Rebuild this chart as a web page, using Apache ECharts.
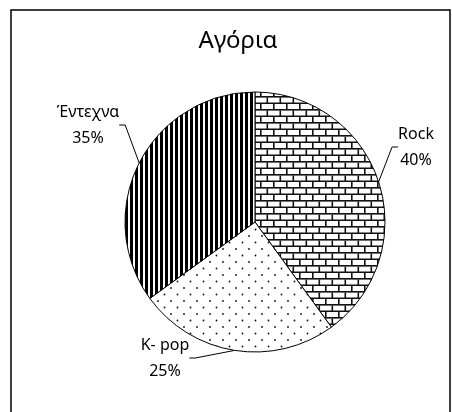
<!DOCTYPE html>
<html>
<head>
<meta charset="utf-8">
<script src="https://cdn.jsdelivr.net/npm/echarts@6/dist/echarts.min.js"></script>
<style>
html,body{margin:0;padding:0;background:#fff;}
#chart{width:452px;height:412px;}
</style>
</head>
<body>
<div id="chart"></div>
<script>
const titleText = 'Αγόρια';
const categories = ['Rock', 'K- pop', 'Έντεχνα'];
const values = [40, 25, 35];

function makePattern(kind) {
  const c = document.createElement('canvas');
  const ctx = c.getContext('2d');
  if (kind === 'brick') {
    c.width = 13; c.height = 13;
    ctx.fillStyle = '#fff'; ctx.fillRect(0, 0, 13, 13);
    ctx.fillStyle = '#111';
    ctx.fillRect(0, 5, 13, 1.6);
    ctx.fillRect(0, 11.5, 13, 1.6);
    ctx.fillRect(0, 0, 1.6, 6);
    ctx.fillRect(6.5, 6.5, 1.6, 6);
  } else if (kind === 'stripes') {
    c.width = 5; c.height = 5;
    ctx.fillStyle = '#fff'; ctx.fillRect(0, 0, 5, 5);
    ctx.fillStyle = '#000'; ctx.fillRect(0, 0, 3, 5);
  } else {
    c.width = 13; c.height = 13;
    ctx.fillStyle = '#fff'; ctx.fillRect(0, 0, 13, 13);
    ctx.fillStyle = '#111';
    ctx.beginPath(); ctx.arc(2, 2, 0.9, 0, Math.PI * 2); ctx.fill();
    ctx.beginPath(); ctx.arc(8.5, 8.5, 0.9, 0, Math.PI * 2); ctx.fill();
  }
  return { image: c, repeat: 'repeat' };
}
const patterns = [makePattern('brick'), makePattern('dots'), makePattern('stripes')];
const labelPos = [[416, 147], [165, 358], [88, 125]];

const chart = echarts.init(document.getElementById('chart'), null, { renderer: 'canvas' });
chart.setOption({
  animation: false,
  backgroundColor: '#fff',
  title: {
    text: titleText,
    left: 233,
    top: 24,
    textAlign: 'center',
    textStyle: { fontFamily: 'Noto Sans', fontSize: 24, fontWeight: 'normal', color: '#000' }
  },
  graphic: [{
    type: 'rect',
    shape: { x: 11, y: 10, width: 439, height: 420 },
    style: { fill: 'none', stroke: '#000', lineWidth: 1.5 },
    silent: true
  }],
  series: [{
    type: 'pie',
    center: [255, 222],
    radius: 130,
    startAngle: 90,
    clockwise: true,
    percentPrecision: 0,
    data: categories.map((n, i) => ({
      name: n,
      value: values[i],
      itemStyle: { color: patterns[i] }
    })),
    itemStyle: { borderColor: '#000', borderWidth: 1 },
    label: {
      show: true,
      position: 'outside',
      formatter: '{b}\n{d}%',
      fontFamily: 'Noto Sans',
      fontSize: 16,
      lineHeight: 26,
      color: '#000',
      align: 'center'
    },
    labelLine: { show: true, length: 10, length2: 6, lineStyle: { color: '#000', width: 1 } },
    labelLayout: function (p) {
      const pos = labelPos[p.dataIndex];
      return { x: pos[0], y: pos[1], align: 'center', verticalAlign: 'middle' };
    },
    emphasis: { disabled: true }
  }]
});
</script>
</body>
</html>
